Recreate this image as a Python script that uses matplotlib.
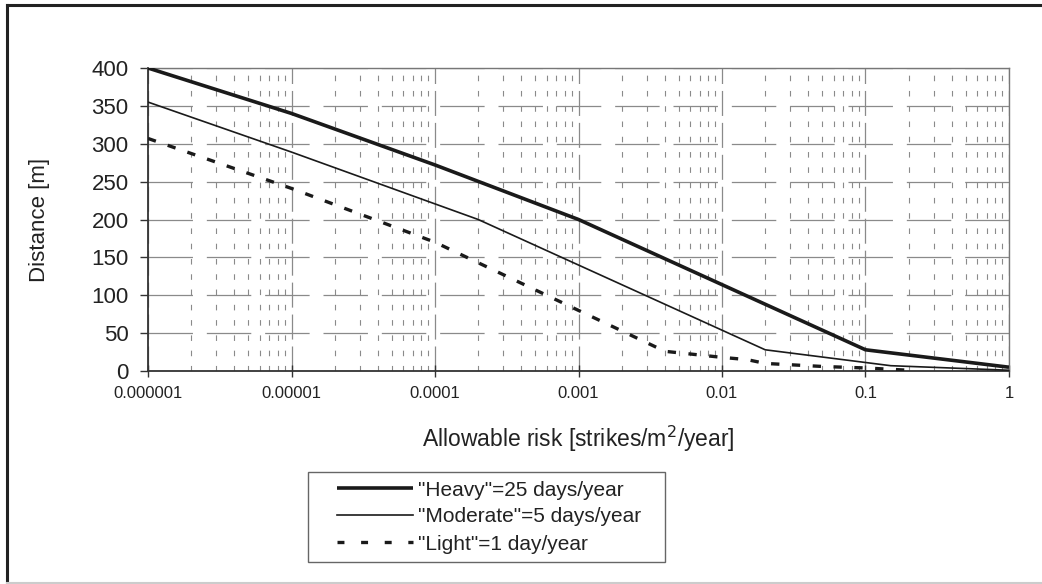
import matplotlib
matplotlib.use("Agg")
import matplotlib.pyplot as plt
from matplotlib.ticker import LogLocator, NullFormatter
from matplotlib.lines import Line2D
from matplotlib.patches import Rectangle

plt.rcParams['font.family'] = ['Liberation Sans', 'DejaVu Sans']
plt.rcParams['lines.scale_dashes'] = False

# Data
heavy_x = [1e-6, 1e-5, 1e-4, 1e-3, 1e-1, 1.0]
heavy_y = [400, 340, 272, 200, 28, 5]

moderate_x = [1e-6, 1e-5, 2e-4, 2e-2, 1.5e-1, 1.0]
moderate_y = [355, 289, 200, 28, 7, 1]

light_x = [1e-6, 1e-5, 1e-4, 1e-3, 4e-3, 1e-2, 1.5e-2, 2e-2, 5e-2, 1e-1, 2e-1]
light_y = [307, 241, 170, 80, 26, 18, 15, 10, 6, 4, 1]

x_ticks = [1e-6, 1e-5, 1e-4, 1e-3, 1e-2, 1e-1, 1]
x_ticklabels = ["0.000001", "0.00001", "0.0001", "0.001", "0.01", "0.1", "1"]
y_ticks = [0, 50, 100, 150, 200, 250, 300, 350, 400]

labels = ['"Heavy"=25 days/year', '"Moderate"=5 days/year', '"Light"=1 day/year']

W, H = 1042, 584
fig = plt.figure(figsize=(W / 100, H / 100), dpi=100)
ax = fig.add_axes([148 / W, 1 - 371 / H, (1009 - 148) / W, (371 - 68) / H])

ax.set_xscale('log')
ax.set_xlim(1e-6, 1)
ax.set_ylim(0, 400)

# grid
grid_c = '#8a8a8a'
ax.xaxis.set_minor_locator(LogLocator(base=10, subs=range(2, 10)))
ax.xaxis.set_minor_formatter(NullFormatter())
ax.grid(True, which='minor', axis='x', color=grid_c, lw=0.8, dashes=(4, 7))
ax.grid(True, which='major', axis='x', color=grid_c, lw=0.9, dashes=(18, 5))
ax.grid(True, which='major', axis='y', color=grid_c, lw=0.9, dashes=(32, 10))

lc = '#1a1a1a'
heavy_style = dict(color=lc, lw=2.6, solid_capstyle='butt')
moderate_style = dict(color=lc, lw=1.2)
light_style = dict(color=lc, lw=2.4, dashes=(6, 9), dash_capstyle='butt')

ax.plot(heavy_x, heavy_y, zorder=5, **heavy_style)
ax.plot(moderate_x, moderate_y, zorder=5, **moderate_style)
ax.plot(light_x, light_y, zorder=5, **light_style)

ax.set_xticks(x_ticks)
ax.set_xticklabels(x_ticklabels, fontsize=12, color='#222222')
ax.set_yticks(y_ticks)
ax.set_yticklabels([str(v) for v in y_ticks], fontsize=16, color='#222222')
ax.tick_params(axis='x', which='major', direction='inout', length=8, width=1, color='#333333', pad=7)
ax.tick_params(axis='x', which='minor', length=0)
ax.tick_params(axis='y', which='major', direction='out', length=6, width=1, color='#333333', pad=8)

for s in ['top', 'right']:
    ax.spines[s].set_color('#777777')
    ax.spines[s].set_linewidth(1.0)
for s in ['left', 'bottom']:
    ax.spines[s].set_color('#333333')
    ax.spines[s].set_linewidth(1.3)

ax.set_ylabel('Distance [m]', fontsize=16, color='#222222', labelpad=30)
ax.set_xlabel('Allowable risk [strikes/m$^2$/year]', fontsize=16.5, color='#222222', labelpad=16)

# legend box (drawn in pixel-based figure coordinates)
def fx(px):
    return px / W

def fy(py):
    return 1 - py / H

fig.add_artist(Rectangle((fx(308), fy(562)), fx(665) - fx(308), fy(472) - fy(562),
                         transform=fig.transFigure, fill=True, facecolor='white',
                         edgecolor='#666666', lw=1.0))
row_y = [488, 515, 542]
styles = [heavy_style, moderate_style, dict(color=lc, lw=2.4, dashes=(5, 12), dash_capstyle='butt')]
for lab, ry, st in zip(labels, row_y, styles):
    fig.add_artist(Line2D([fx(337), fx(413)], [fy(ry), fy(ry)], transform=fig.transFigure, **st))
    fig.text(fx(418), fy(ry), lab, fontsize=15, color='#222222', ha='left', va='center_baseline')

# outer frame of the figure
fig.add_artist(Line2D([fx(7), fx(7)], [0, fy(5)], transform=fig.transFigure, color='#222222', lw=2.2))
fig.add_artist(Line2D([fx(7), 1], [fy(5), fy(5)], transform=fig.transFigure, color='#222222', lw=2.2))
fig.add_artist(Line2D([fx(7), 1], [fy(582.5), fy(582.5)], transform=fig.transFigure, color='#cccccc', lw=1.5))

fig.savefig('out.png', dpi=100)
